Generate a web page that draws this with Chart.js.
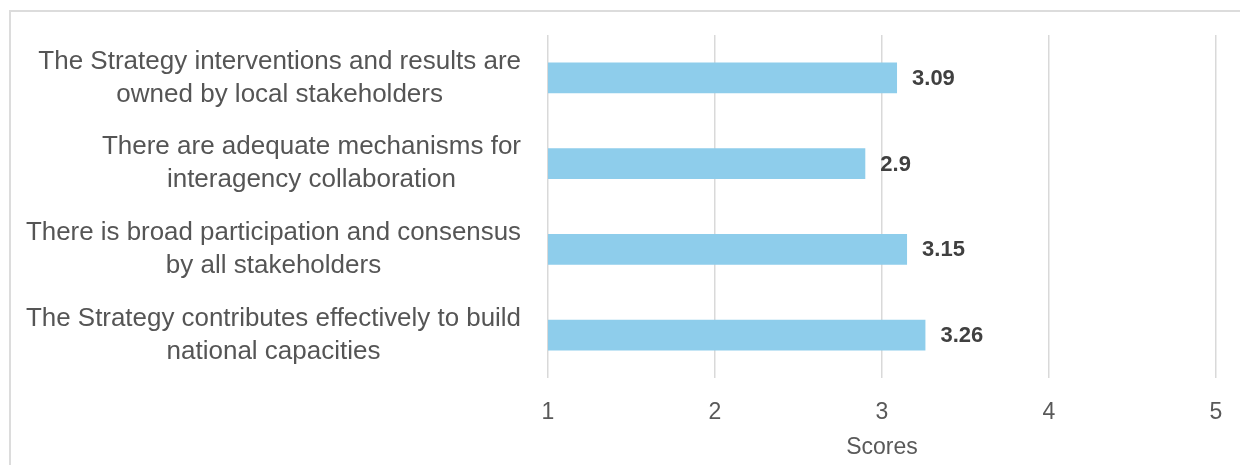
<!DOCTYPE html>
<html>

<head>
    <meta charset="utf-8">
    <style>
        body { margin: 0; background: #fff; }
        #wrap { position: relative; width: 1240px; height: 465px; }
        #frame {
            position: absolute; left: 9px; top: 10px; right: -5px; bottom: -5px;
            border-left: 2px solid #dcdcdc; border-top: 2px solid #dcdcdc;
        }
        #chartId { position: absolute; left: 0; top: 0; }
    </style>
</head>

<body>
    <div id="wrap">
        <div id="frame"></div>
        <canvas id="chartId" width="1240" height="465"></canvas>
    </div>
    <script src="https://cdn.jsdelivr.net/npm/chart.js"></script>
    <script>
        // categories (each label split in two lines like the original)
        const categories = [
            ['The Strategy interventions and results are', 'owned by local stakeholders'],
            ['There are adequate mechanisms for', 'interagency collaboration'],
            ['There is broad participation and consensus', 'by all stakeholders'],
            ['The Strategy contributes effectively to build', 'national capacities']
        ];
        const scores = [3.09, 2.9, 3.15, 3.26];
        const scoreTicks = [1, 2, 3, 4, 5];
        const axisTitle = 'Scores';

        const chartCanvas = document.getElementById('chartId');

        // category labels: block right-aligned, lines centered inside the block
        const catLabels = {
            id: 'catLabels',
            afterDraw(chart) {
                const ctx = chart.ctx;
                const yScale = chart.scales.y;
                const right = 521;
                const lineH = 33;
                const maxW = 495;
                ctx.save();
                ctx.font = '26px "Liberation Sans", Arial, sans-serif';
                ctx.fillStyle = '#555555';
                ctx.textAlign = 'center';
                ctx.textBaseline = 'middle';
                categories.forEach((lines, i) => {
                    const cy = yScale.getPixelForTick(i);
                    const w = Math.min(maxW, Math.max(...lines.map(l => ctx.measureText(l).width)));
                    const cx = right - w / 2;
                    lines.forEach((l, j) => {
                        const y = cy + (j - (lines.length - 1) / 2) * lineH;
                        ctx.fillText(l, cx, y, maxW);
                    });
                });
                ctx.restore();
            }
        };

        // value labels at the end of each bar
        const valueLabels = {
            id: 'valueLabels',
            afterDatasetsDraw(chart) {
                const ctx = chart.ctx;
                const meta = chart.getDatasetMeta(0);
                ctx.save();
                ctx.font = 'bold 22px "Liberation Sans", Arial, sans-serif';
                ctx.fillStyle = '#404040';
                ctx.textAlign = 'left';
                ctx.textBaseline = 'middle';
                meta.data.forEach((bar, i) => {
                    ctx.fillText(String(scores[i]), bar.x + 15, bar.y + 1);
                });
                ctx.restore();
            }
        };

        new Chart(chartCanvas, {
            type: 'bar',
            data: {
                labels: categories,
                datasets: [{
                    data: scores,
                    backgroundColor: '#8ecdeb',
                    borderWidth: 0,
                    categoryPercentage: 1,
                    barPercentage: 0.36
                }]
            },
            options: {
                indexAxis: 'y',
                responsive: false,
                animation: false,
                layout: {
                    padding: { left: 548, right: 24, top: 35, bottom: 0 }
                },
                plugins: {
                    legend: { display: false },
                    tooltip: { enabled: false }
                },
                scales: {
                    x: {
                        min: scoreTicks[0],
                        max: scoreTicks[scoreTicks.length - 1],
                        afterBuildTicks: s => { s.ticks = scoreTicks.map(v => ({ value: v })); },
                        afterFit: s => {
                            s.height = 87;
                            // tick padding should not eat into the plot width
                            s.paddingLeft = 0;
                            s.paddingRight = 0;
                        },
                        grid: { color: '#d9d9d9', lineWidth: 1.5, drawTicks: false },
                        border: { display: false },
                        ticks: {
                            padding: 21,
                            color: '#595959',
                            font: { family: '"Liberation Sans", Arial, sans-serif', size: 23 }
                        },
                        title: {
                            display: true,
                            text: axisTitle,
                            color: '#595959',
                            font: { family: '"Liberation Sans", Arial, sans-serif', size: 23 },
                            padding: { top: 0, bottom: 4 }
                        }
                    },
                    y: {
                        display: false
                    }
                }
            },
            plugins: [catLabels, valueLabels]
        });
    </script>
</body>

</html>
